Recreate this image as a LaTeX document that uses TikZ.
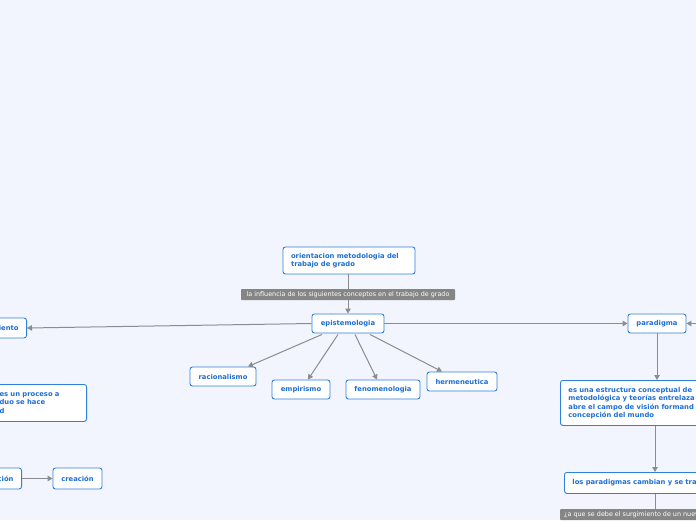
\documentclass[tikz,border=0pt]{standalone}
\usepackage{fontspec}
\setmainfont{DejaVu Sans}
\usetikzlibrary{arrows.meta}
\definecolor{bgc}{HTML}{F2F5FD}
\definecolor{bcol}{HTML}{2F80DD}
\definecolor{tcol}{HTML}{1E6FD2}
\definecolor{lcol}{HTML}{8A8C90}
\definecolor{gcol}{HTML}{858585}
\tikzset{
  box/.style={draw=bcol, fill=white, rounded corners=2.5pt, line width=0.9pt,
    text=tcol, font=\bfseries\fontsize{6.8}{8.4}\selectfont, inner xsep=8pt, inner ysep=3pt},
  glabel/.style={fill=gcol, text=white, font=\fontsize{6.4}{7.5}\selectfont, inner xsep=4pt, inner ysep=1.5pt, minimum height=11pt, rounded corners=0.8pt},
  conn/.style={draw=lcol, line width=1pt},
  arr/.style={conn, -{Triangle[length=5pt,width=5.5pt]}}
}
\begin{document}
\begin{tikzpicture}[x=1pt,y=-1pt]
\fill[bgc] (0,0) rectangle (696,520);
\useasboundingbox (0,0) rectangle (696,520);
\clip (0,0) rectangle (696,520);
% nodes
\node[box, minimum width=132pt, minimum height=27pt, text width=116pt, align=left] (orient) at (349,260.5) {orientacion metodologia del\\trabajo de grado};
\node[box, minimum width=72pt, minimum height=19pt] (episte) at (348,323.5) {epistemologia};
\node[box, minimum height=20pt, anchor=east, inner xsep=8pt] (conoc) at (27,328) {iento};
\node[box, minimum width=120pt, minimum height=37pt, anchor=north east, align=left, text width=104pt] (proceso) at (87,384) {\hspace*{25pt}es un proceso a\\\hspace*{25pt}duo se hace\\\hspace*{25pt}d};
\node[box, minimum height=21pt, anchor=east] (cion) at (22,478.5) {ción};
\node[box, minimum width=49pt, minimum height=21pt] (creacion) at (77.5,478.5) {creación};
\node[box, minimum width=66pt, minimum height=19pt] (racion) at (223,376.5) {racionalismo};
\node[box, minimum width=58pt, minimum height=19pt] (empir) at (301,389.5) {empirismo};
\node[box, minimum width=74pt, minimum height=19pt] (fenom) at (383,389.5) {fenomenologia};
\node[box, minimum width=70pt, minimum height=19pt] (herme) at (462,381.5) {hermeneutica};
\node[box, minimum width=58pt, minimum height=19pt] (parad) at (657,323.5) {paradigma};
\node[box, minimum width=170pt, minimum height=45pt, anchor=north west, align=left, text width=154pt] (estruc) at (560,380) {es una estructura conceptual de\\metodológica y teorías entrelaza\\abre el campo de visión formand\\concepción del mundo};
\node[box, minimum width=160pt, minimum height=21pt, anchor=north west, text width=144pt, align=left] (cambian) at (564,472) {los paradigmas cambian y se tra};
\coordinate (rin) at (700,323.5);
\coordinate (lab2top) at (655,509);
% connectors
\draw[arr] (orient.south -| episte.north) -- (episte.north);
\draw[arr] (episte.west) -- (conoc.east);
\draw[arr] (episte.east) -- (parad.west);
\draw[arr] (rin) -- (parad.east);
\draw[arr] ([xshift=-26pt,yshift=-1pt]episte.south) -- ([xshift=25pt]racion.north);
\draw[arr] ([xshift=-10pt,yshift=-1pt]episte.south) -- ([xshift=7pt]empir.north);
\draw[arr] ([xshift=7pt,yshift=-1pt]episte.south) -- ([xshift=-6pt]fenom.north);
\draw[arr] ([xshift=22pt,yshift=-1pt]episte.south) -- ([xshift=-20pt]herme.north);
\draw[arr] (cion.east) -- (creacion.west);
\draw[arr] (parad.south) -- (parad.south |- estruc.north);
\draw[arr] (estruc.south -| 655,0) -- (cambian.north -| 655,0);
\draw[conn] (cambian.south -| lab2top) -- (lab2top);
% labels on top
\node[glabel, minimum width=214pt] (lab1) at (348,294.5) {la influencia de los siguientes conceptos en el trabajo de grado};
\node[glabel, anchor=north west, minimum width=170pt] (lab2) at (560,509) {¿a que se debe el surgimiento de un nuevo paradigma?};
\end{tikzpicture}
\end{document}
